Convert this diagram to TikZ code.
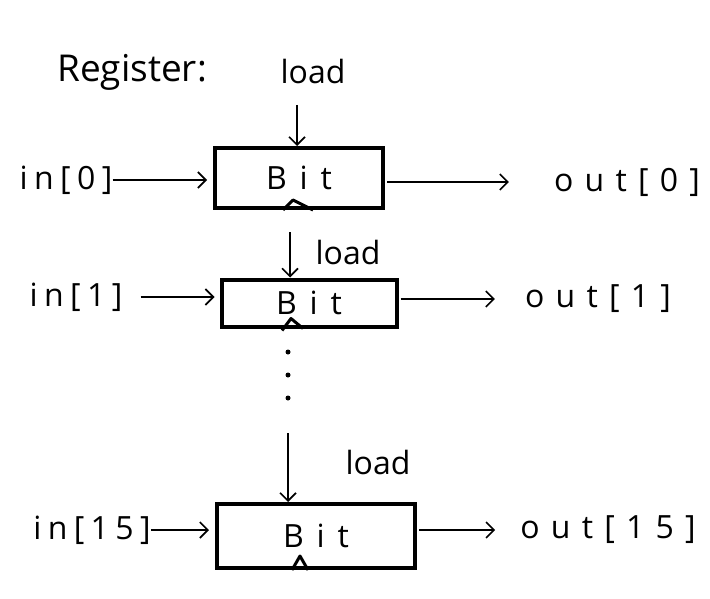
\documentclass[tikz,border=0pt]{standalone}
\usepackage{fontspec}
\setmainfont{Open Sans}
\usetikzlibrary{arrows.meta}
\begin{document}
\begin{tikzpicture}[x=1pt,y=-1pt,
  bitbox/.style={draw,line width=4pt,rectangle,inner sep=0pt,font=\fontsize{32}{36}\selectfont\addfontfeature{LetterSpace=40}},
  lbl/.style={inner sep=0pt,font=\fontsize{32}{36}\selectfont},
  inlbl/.style={inner sep=0pt,font=\fontsize{32}{36}\selectfont\addfontfeature{LetterSpace=20}},
  outlbl/.style={inner sep=0pt,font=\fontsize{32}{36}\selectfont\addfontfeature{LetterSpace=35}},
  arr/.style={line width=1.6pt,-{Straight Barb[length=8pt,width=16pt,line width=1.6pt]}},
  clk/.style={line width=3pt,line join=round}]
\useasboundingbox (0,0) rectangle (710,599);
\node[inner sep=0pt,font=\fontsize{37}{42}\selectfont,anchor=west] (title) at (57,72) {Register:};
% bit 0
\node[bitbox,minimum width=168pt,minimum height=60pt] (b1) at (299,178) {Bit};
\node[lbl] (l1) at (313,72) {load};
\coordinate (l1s) at (297,105);
\draw[arr] (l1s) -- (l1s |- b1.north);
\node[inlbl] (i1) at (66,180) {in[0]};
\draw[arr,shorten >=6pt] (i1.east) -- (i1.east -| b1.west);
\node[outlbl] (o1) at (627,182) {out[0]};
\draw[arr,shorten <=2pt] (b1.east |- o1) -- ([xshift=-45pt]o1.west);
\draw[clk] ([xshift=-16pt]b1.south) -- ([xshift=-6pt,yshift=10pt]b1.south) -- ([xshift=14pt]b1.south);
% bit 1
\node[bitbox,minimum width=175pt,minimum height=47pt] (b2) at (309,303) {Bit};
\node[lbl] (l2) at (348,252) {load};
\coordinate (l2s) at (290,232);
\draw[arr] (l2s) -- (l2s |- b2.north);
\node[inlbl] (i2) at (76,297) {in[1]};
\draw[arr,shorten >=5pt] ([xshift=18pt]i2.east) -- (i2.east -| b2.west);
\node[outlbl] (o2) at (598,299) {out[1]};
\draw[arr,shorten <=2pt] (b2.east |- o2) -- ([xshift=-30pt]o2.west);
\draw[clk] ([xshift=-27pt,yshift=-2pt]b2.south) -- ([xshift=-18pt,yshift=10pt]b2.south) -- ([xshift=-6pt]b2.south);
% dots
\fill (288,352) circle (2.5pt);
\fill (288,375) circle (2.5pt);
\fill (288,398) circle (2.5pt);
% bit 15
\node[bitbox,minimum width=198pt,minimum height=64pt] (b3) at (316,536) {Bit};
\node[lbl] (l3) at (378,462) {load};
\coordinate (l3s) at (288,433);
\draw[arr] (l3s) -- (l3s |- b3.north);
\node[inlbl] (i3) at (92,530) {in[15]};
\draw[arr,shorten >=6pt] (i3.east) -- (i3.east -| b3.west);
\node[outlbl] (o3) at (608,530) {out[15]};
\draw[arr,shorten <=2pt] (b3.east |- o3) -- ([xshift=-25pt]o3.west);
\draw[clk] ([xshift=-24pt]b3.south) -- ([xshift=-16pt,yshift=14pt]b3.south) -- ([xshift=-8pt]b3.south);
\end{tikzpicture}
\end{document}
